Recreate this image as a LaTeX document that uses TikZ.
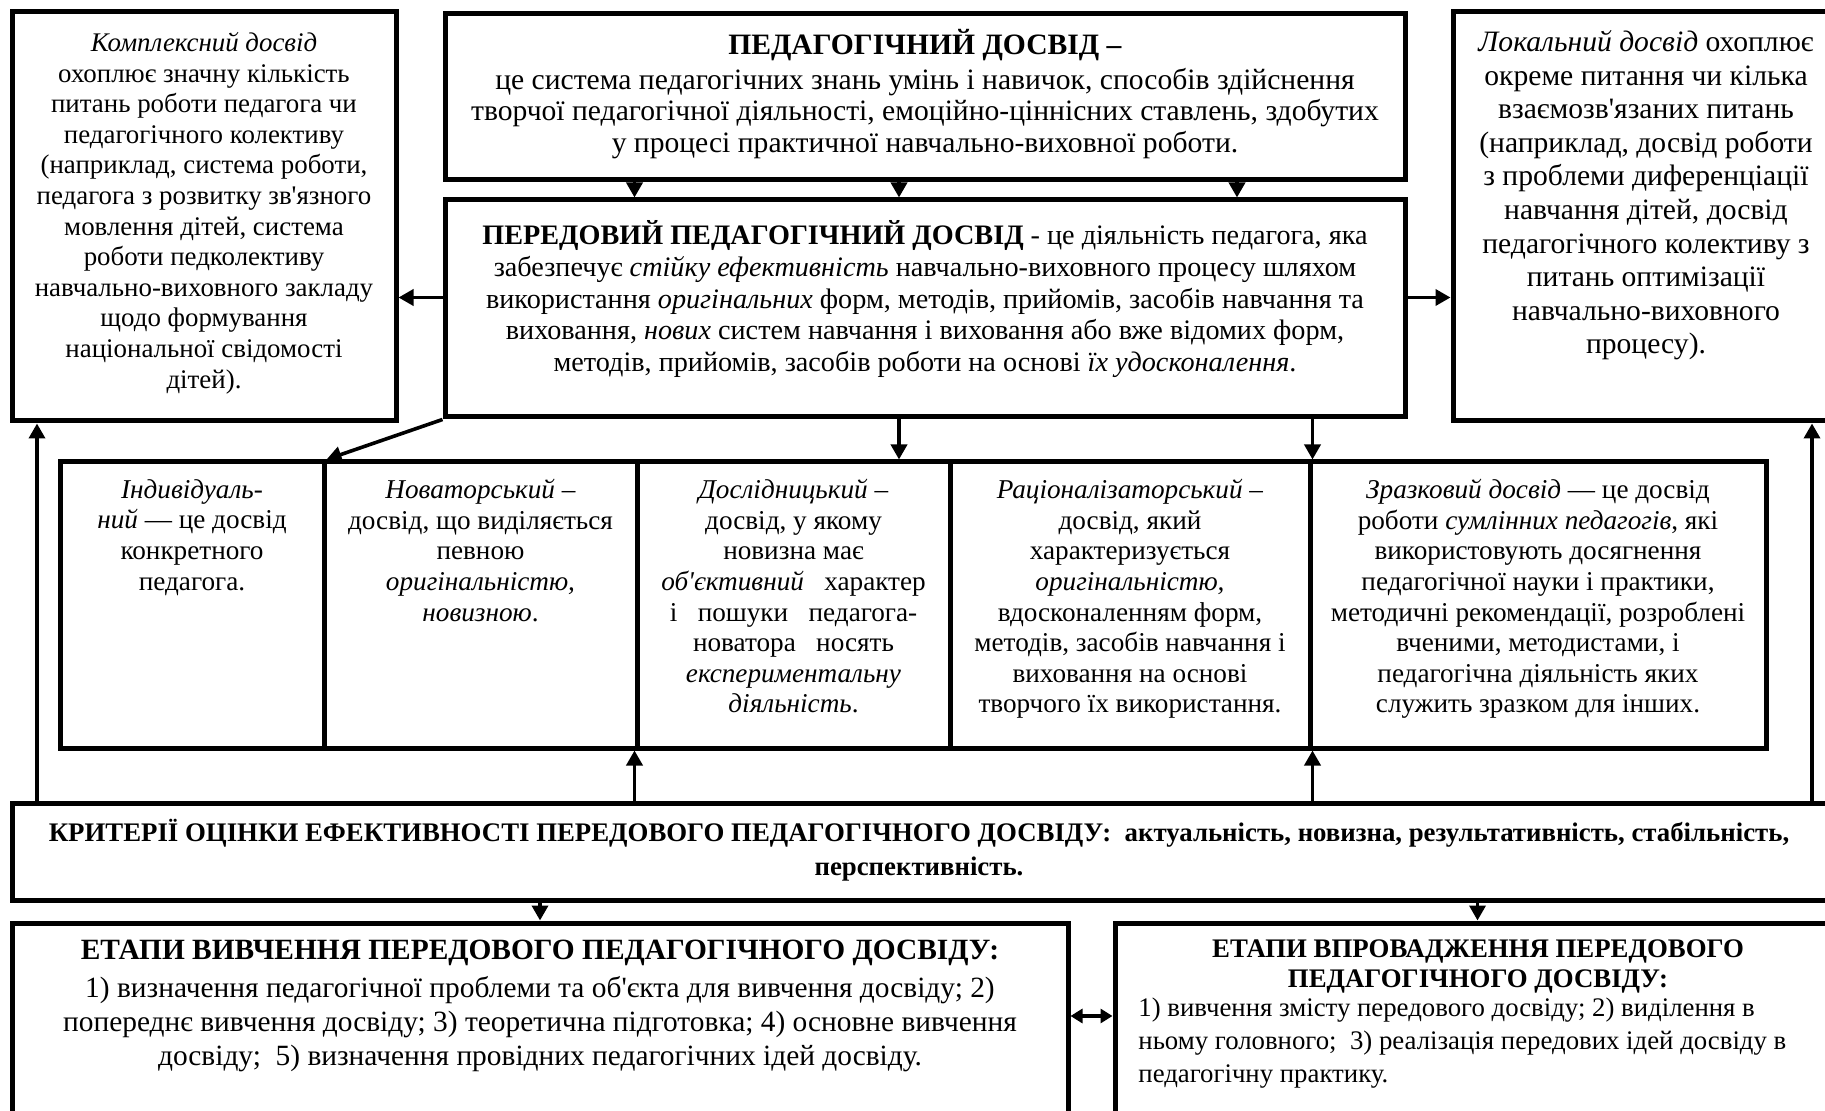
\documentclass[tikz,border=0pt]{standalone}
\usepackage{fontspec}
\setmainfont{Liberation Serif}[Ligatures=TeXOff]
\usetikzlibrary{arrows.meta}

\begin{document}
\begin{tikzpicture}[x=0.5pt,y=-0.5pt,
    box/.style={draw,line width=2.5pt,inner sep=0pt},
    txt/.style={align=center,inner sep=0pt,font=\fontsize{13.6}{15.3}\selectfont},
    arr/.style={line width=1.8pt,-{Triangle[length=7.5pt,width=8pt]}},
    dblarr/.style={line width=1.8pt,{Triangle[length=6pt,width=7pt]}-{Triangle[length=6pt,width=7pt]}}]
  \useasboundingbox (0,0) rectangle (1825,1111);

  \node[box,minimum width=192pt,minimum height=204.5pt] (K) at (204,216.5) {};
  \node[box,minimum width=480pt,minimum height=83pt] (P) at (925,97) {};
  \node[box,minimum width=480pt,minimum height=108.5pt] (D) at (925,308.5) {};
  \node[box,minimum width=193.5pt,minimum height=204.5pt] (L) at (1646.5,216.5) {};

  \node[box,minimum width=132pt,minimum height=143pt] (Ind) at (192,605) {};
  \node[box,minimum width=156.5pt,minimum height=143pt] (Nov) at (480.5,605) {};
  \node[box,minimum width=156.5pt,minimum height=143pt] (Dosl) at (793.5,605) {};
  \node[box,minimum width=180pt,minimum height=143pt] (Rats) at (1130,605) {};
  \node[box,minimum width=228pt,minimum height=143pt] (Zraz) at (1538,605) {};

  \node[box,minimum width=914pt,minimum height=48.5pt] (C) at (926,851.5) {};
  \node[box,minimum width=528pt,minimum height=103.5pt] (B1) at (540,1026.5) {};
  \node[box,minimum width=362.5pt,minimum height=103.5pt] (B2) at (1477.5,1026.5) {};

  \node[txt,anchor=north,font=\fontsize{13.45}{15.3}\selectfont] (KT) at (204,32) {\textit{Комплексний досвід}\\ охоплює значну кількість\\ питань роботи педагога чи\\ педагогічного колективу\\ (наприклад, система роботи,\\ педагога з розвитку зв'язного\\ мовлення дітей, система\\ роботи педколективу\\ навчально-виховного закладу\\ щодо формування\\ національної свідомості\\ дітей).};
  \node[txt,anchor=north,font=\fontsize{14.8}{15.7}\selectfont] (PT) at (925,29) {\textbf{ПЕДАГОГІЧНИЙ ДОСВІД –}\\[1.8pt] це система педагогічних знань умінь і навичок, способів здійснення\\ творчої педагогічної діяльності, емоційно-ціннісних ставлень, здобутих\\ у процесі практичної навчально-виховної роботи.};
  \node[txt,anchor=north,font=\fontsize{14.1}{15.9}\selectfont] (DT) at (925,220) {\textbf{ПЕРЕДОВИЙ ПЕДАГОГІЧНИЙ ДОСВІД} - це діяльність педагога, яка\\ забезпечує \textit{стійку ефективність} навчально-виховного процесу шляхом\\ використання \textit{оригінальних} форм, методів, прийомів, засобів навчання та\\ виховання, \textit{нових} систем навчання і виховання або вже відомих форм,\\ методів, прийомів, засобів роботи на основі \textit{їх удосконалення}.};
  \node[txt,anchor=north,font=\fontsize{14.8}{16.8}\selectfont] (LT) at (1646,30) {\textit{Локальний досвід} охоплює\\ окреме питання чи кілька\\ взаємозв'язаних питань\\ (наприклад, досвід роботи\\ з проблеми диференціації\\ навчання дітей, досвід\\ педагогічного колективу з\\ питань оптимізації\\ навчально-виховного\\ процесу).};

  \node[txt,anchor=north] (IndT) at (192,479) {\textit{Індивідуаль-}\\ \textit{ний} — це досвід\\ конкретного\\ педагога.};
  \node[txt,anchor=north] (NovT) at (480.5,479) {\textit{Новаторський –}\\ досвід, що виділяється\\ певною\\ \textit{оригінальністю,}\\ \textit{новизною}.};
  \node[txt,anchor=north] (DoslT) at (793.5,479) {\textit{Дослідницький –}\\ досвід, у якому\\ новизна має\\ \textit{об'єктивний}\ \ \ характер\\ і\ \ \ пошуки\ \ \ педагога-\\ новатора\ \ \ носять\\ \textit{експериментальну}\\ \textit{діяльність}.};
  \node[txt,anchor=north] (RatsT) at (1130,479) {\textit{Раціоналізаторський –}\\ досвід, який\\ характеризується\\ \textit{оригінальністю,}\\ вдосконаленням форм,\\ методів, засобів навчання і\\ виховання на основі\\ творчого їх використання.};
  \node[txt,anchor=north] (ZrazT) at (1538,479) {\textit{Зразковий досвід} — це досвід\\ роботи \textit{сумлінних педагогів}, які\\ використовують досягнення\\ педагогічної науки і практики,\\ методичні рекомендації, розроблені\\ вченими, методистами, і\\ педагогічна діяльність яких\\ служить зразком для інших.};

  \node[txt,font=\bfseries\fontsize{13.4}{17}\selectfont] (CT) at (919,850) {КРИТЕРІЇ ОЦІНКИ ЕФЕКТИВНОСТІ ПЕРЕДОВОГО ПЕДАГОГІЧНОГО ДОСВІДУ:\ \ актуальність, новизна, результативність, стабільність,\\ перспективність.};
  \node[txt,anchor=north,font=\fontsize{14.7}{17}\selectfont] (B1T) at (540,940) {\textbf{ЕТАПИ ВИВЧЕННЯ ПЕРЕДОВОГО ПЕДАГОГІЧНОГО ДОСВІДУ:}\\[2pt] 1) визначення педагогічної проблеми та об'єкта для вивчення досвіду; 2)\\ попереднє вивчення досвіду; 3) теоретична підготовка; 4) основне вивчення\\ досвіду;\ \ 5) визначення провідних педагогічних ідей досвіду.};
  \node[txt,anchor=north,font=\bfseries\fontsize{13.4}{15}\selectfont] (B2T) at (1478,939) {ЕТАПИ ВПРОВАДЖЕННЯ ПЕРЕДОВОГО\\ ПЕДАГОГІЧНОГО ДОСВІДУ:};
  \node[txt,anchor=north west,align=left,font=\fontsize{13.4}{16.5}\selectfont] (B2B) at (1138,998) {1) вивчення змісту передового досвіду; 2) виділення в\\ ньому головного;\ \ 3) реалізація передових ідей досвіду в\\ педагогічну практику.};

  \coordinate (xa) at (899,0);
  \coordinate (xb) at (1237,0);
  \coordinate (xl) at (37,0);
  \coordinate (xr) at (1812,0);
  \coordinate (yd) at (0,1016);

  \draw[arr] (P.south -| Dosl.north west) -- (D.north -| Dosl.north west);
  \draw[arr] (P.south -| xa) -- (D.north -| xa);
  \draw[arr] (P.south -| xb) -- (D.north -| xb);
  \draw[arr] ([yshift=5.5pt]D.west) -- ([yshift=5.5pt]D.west -| K.east);
  \draw[arr] ([yshift=5.5pt]D.east) -- ([yshift=5.5pt]D.east -| L.west);
  \draw[arr] (D.south west) -- (Ind.north east);
  \draw[arr] (D.south -| xa) -- (Dosl.north -| xa);
  \draw[arr] (D.south -| Rats.north east) -- (Rats.north east);
  \draw[arr] (C.north -| xl) -- (K.south -| xl);
  \draw[arr] (C.north -| Dosl.south west) -- (Dosl.south west);
  \draw[arr] (C.north -| Rats.south east) -- (Rats.south east);
  \draw[arr] (C.north -| xr) -- (L.south -| xr);
  \draw[arr] (C.south -| B1.north) -- (B1.north);
  \draw[arr] (C.south -| B2.north) -- (B2.north);
  \draw[dblarr] (B1.east |- yd) -- (B2.west |- yd);
\end{tikzpicture}
\end{document}
